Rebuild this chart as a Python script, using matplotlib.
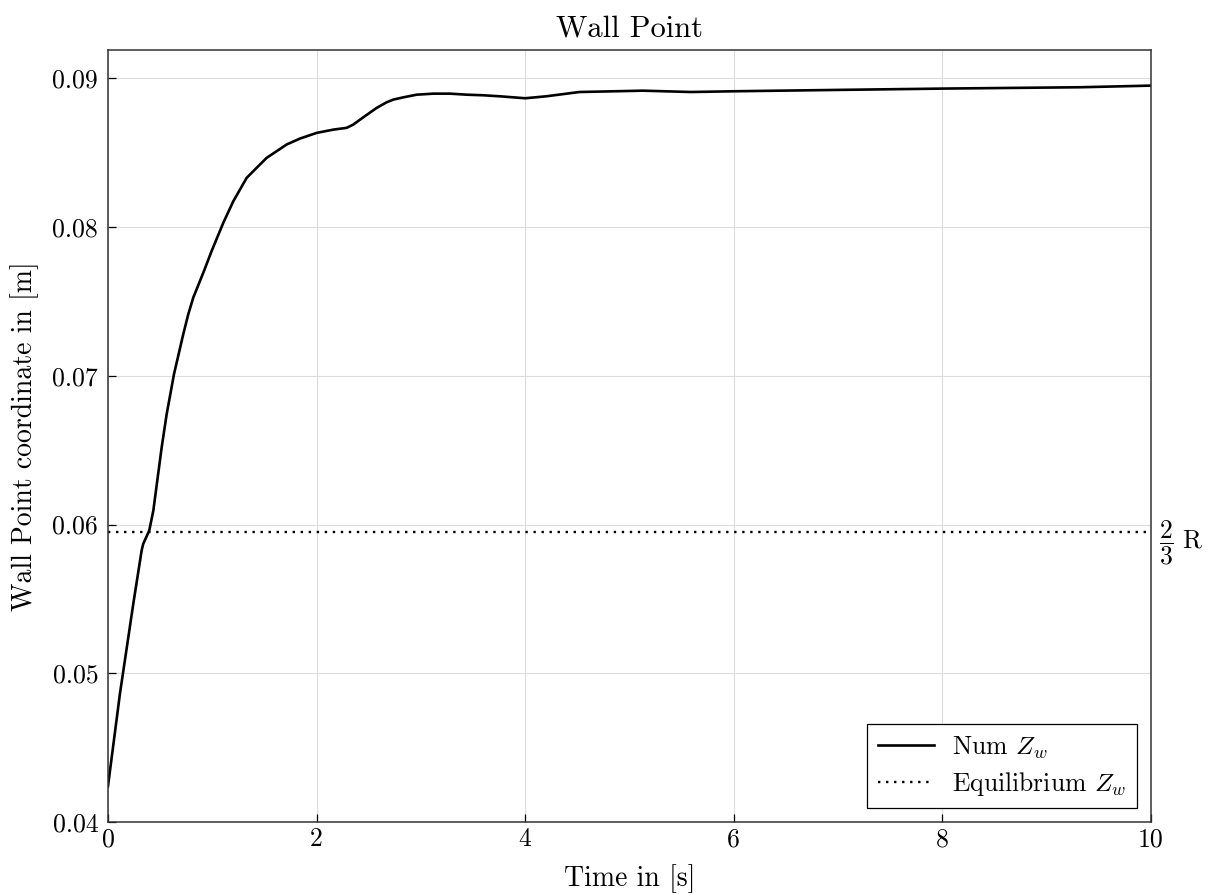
import matplotlib
matplotlib.use('Agg')
import matplotlib.pyplot as plt
import matplotlib.transforms as mtransforms

plt.rcParams['font.family'] = 'serif'
plt.rcParams['font.serif'] = ['cmr10']
plt.rcParams['mathtext.fontset'] = 'cm'
plt.rcParams['axes.formatter.use_mathtext'] = True

# wall point trajectory
time_s = [0.0, 0.115, 0.243, 0.323, 0.338, 0.396, 0.435, 0.515, 0.563, 0.633,
          0.722, 0.77, 0.818, 0.914, 0.994, 1.106, 1.202, 1.33, 1.425, 1.521,
          1.617, 1.713, 1.841, 2.0, 2.16, 2.288, 2.352, 2.448, 2.576, 2.672,
          2.736, 2.831, 2.96, 3.119, 3.279, 3.44, 3.6, 3.76, 4.0, 4.2,
          4.52, 5.13, 5.59, 6.0, 6.99, 8.0, 9.32, 10.0]
wall_z = [0.0424, 0.04864, 0.05468, 0.05826, 0.0587, 0.0596, 0.06094, 0.06519, 0.06743, 0.07011,
          0.0728, 0.07414, 0.07526, 0.07693, 0.07839, 0.08029, 0.08174, 0.08331, 0.08398, 0.08465,
          0.0851, 0.08555, 0.08595, 0.08633, 0.08655, 0.08667, 0.08689, 0.08738, 0.08801, 0.08839,
          0.08857, 0.08872, 0.0889, 0.08897, 0.08897, 0.0889, 0.08886, 0.08879, 0.08866, 0.08879,
          0.08908, 0.08917, 0.08908, 0.08913, 0.08922, 0.08931, 0.0894, 0.08951]

R = 0.0892
z_eq = 2.0 / 3.0 * R

x_ticks = [0, 2, 4, 6, 8, 10]
y_ticks = [0.04, 0.05, 0.06, 0.07, 0.08, 0.09]

fig = plt.figure(figsize=(12.09, 8.94), dpi=100)
ax = fig.add_axes([0.0893, 0.0805, 0.8627, 0.8635])

ax.plot(time_s, wall_z, color='black', lw=1.9, label=r'Num $Z_w$')
ax.axhline(z_eq, color='black', lw=1.7, linestyle=(0, (1, 2.4)), label=r'Equilibrium $Z_w$')

ax.set_xlim(0, 10)
ax.set_ylim(0.04, 0.0919)
ax.set_xticks(x_ticks)
ax.set_xticklabels([str(t) for t in x_ticks])
ax.set_yticks(y_ticks)
ax.set_yticklabels(['%.2f' % v for v in y_ticks])
ax.tick_params(direction='in', length=6, width=0.9, labelsize=18.5,
               top=False, right=False)
ax.tick_params(axis='y', pad=7)
ax.tick_params(axis='x', pad=4)
ax.grid(True, color='#dcdcdc', lw=0.8)
for sp in ax.spines.values():
    sp.set_color('#333333')
    sp.set_linewidth(1.1)

ax.set_title('Wall Point', fontsize=22, pad=10)
ax.set_xlabel('Time in [s]', fontsize=20, labelpad=9)
ax.set_ylabel('Wall Point coordinate in [m]', fontsize=20, labelpad=10)

trans = mtransforms.blended_transform_factory(ax.transAxes, ax.transData)
ax.text(1.008, z_eq - 0.00068, r'$\dfrac{2}{3}\ \mathrm{R}$', transform=trans,
        fontsize=18.5, va='center', ha='left')

leg = ax.legend(loc='lower right', fontsize=18.5, frameon=True, fancybox=False,
                edgecolor='black', framealpha=1, borderaxespad=0.55,
                handlelength=2.2, handletextpad=0.7, labelspacing=0.35, borderpad=0.4)
leg.get_frame().set_linewidth(0.9)

fig.savefig('out.png', dpi=100)
